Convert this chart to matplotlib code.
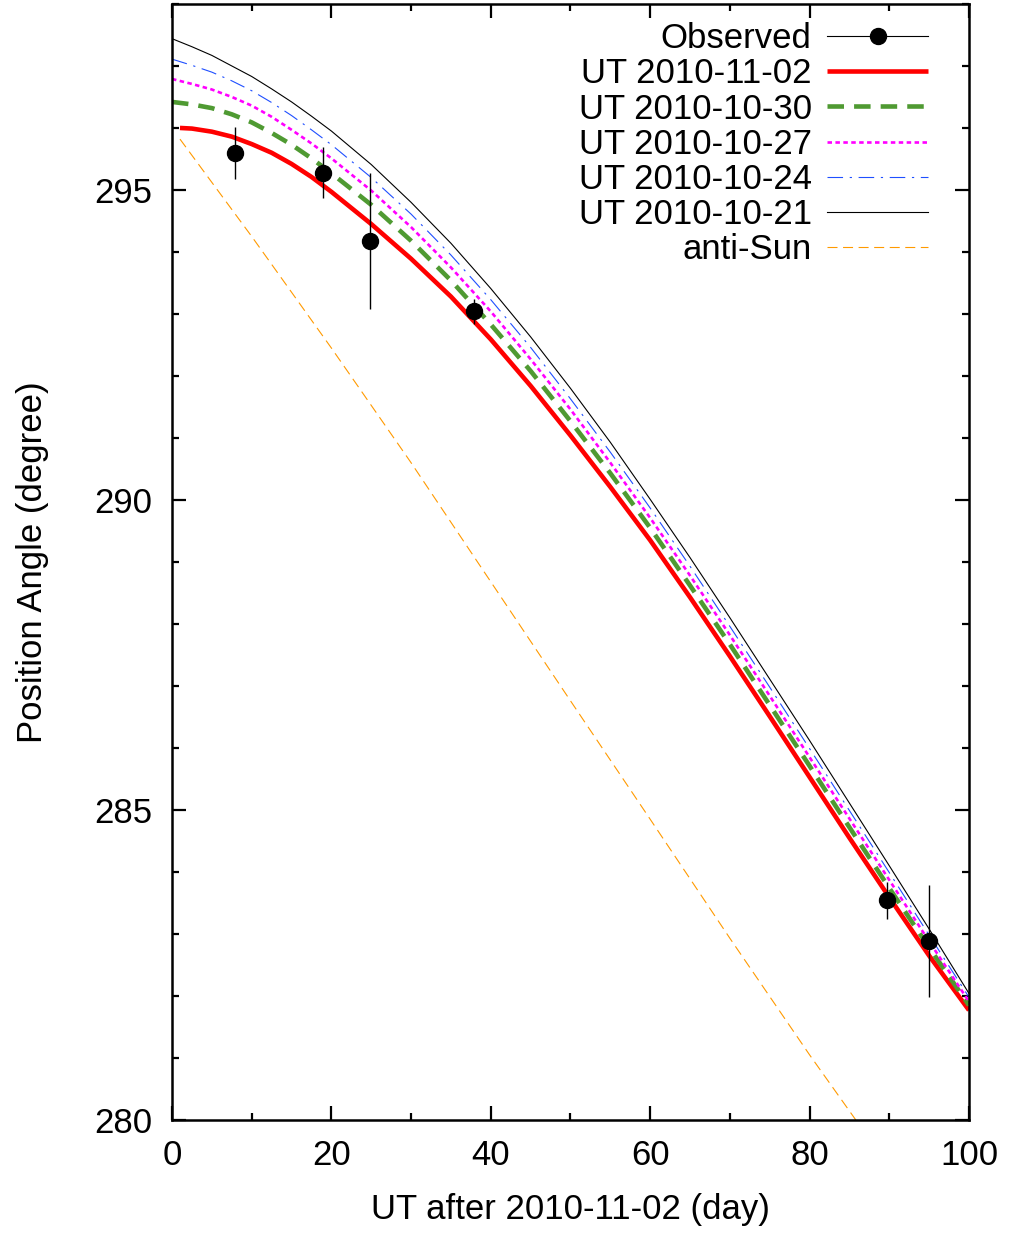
import matplotlib
matplotlib.use("Agg")
import matplotlib.pyplot as plt
from matplotlib.lines import Line2D
from matplotlib.ticker import MultipleLocator

plt.rcParams["font.family"] = ["Liberation Sans", "DejaVu Sans"]

# observed position angles
obs_day = [7.9, 18.9, 24.9, 37.9, 89.7, 95.0]
obs_pa = [295.60, 295.28, 294.18, 293.04, 283.54, 282.89]
obs_err = [0.42, 0.41, 1.10, 0.20, 0.30, 0.90]

# model curves
day = [0, 2.5, 5, 7.5, 10, 12.5, 15, 17.5, 20, 25, 30, 35, 40, 45, 50,
       55, 60, 65, 70, 75, 80, 85, 90, 95, 100]
day_red = [1] + day[1:]
pa_1102 = [296.00, 295.99, 295.94, 295.86, 295.74, 295.60, 295.42, 295.21,
           294.97, 294.45, 293.89, 293.28, 292.59, 291.84, 291.04, 290.21,
           289.35, 288.43, 287.48, 286.51, 285.53, 284.55, 283.59, 282.65,
           281.77]
pa_1030 = [296.42, 296.38, 296.32, 296.22, 296.09, 295.92, 295.73, 295.51,
           295.27, 294.76, 294.18, 293.54, 292.83, 292.08, 291.27, 290.43,
           289.55, 288.62, 287.67, 286.69, 285.71, 284.72, 283.74, 282.78,
           281.85]
pa_1027 = [296.79, 296.71, 296.62, 296.50, 296.36, 296.18, 295.97, 295.75,
           295.51, 294.99, 294.40, 293.75, 293.04, 292.27, 291.46, 290.60,
           289.71, 288.78, 287.82, 286.84, 285.85, 284.86, 283.87, 282.88,
           281.91]
pa_1024 = [297.11, 297.01, 296.90, 296.76, 296.60, 296.41, 296.20, 295.97,
           295.73, 295.20, 294.61, 293.95, 293.23, 292.46, 291.63, 290.77,
           289.87, 288.93, 287.96, 286.98, 285.99, 284.99, 283.99, 282.98,
           281.98]
pa_1021 = [297.44, 297.31, 297.17, 297.00, 296.83, 296.63, 296.42, 296.19,
           295.95, 295.41, 294.80, 294.14, 293.41, 292.63, 291.80, 290.93,
           290.01, 289.07, 288.10, 287.11, 286.12, 285.11, 284.10, 283.08,
           282.04]

sun_day = [1, 10, 20, 30, 40, 50, 60, 70, 80, 85.8]
sun_pa = [295.82, 294.25, 292.45, 290.60, 288.68, 286.76, 284.85, 282.93,
          281.05, 280.00]

fig = plt.figure(figsize=(10.10, 12.34), dpi=100)
ax = fig.add_axes([0.1703, 0.0924, 0.7891, 0.9044])

red, = ax.plot(day_red, pa_1102, color="#ff0000", lw=3.3, solid_capstyle="butt")
green, = ax.plot(day, pa_1030, color="#4f9a32", lw=3.3, dashes=(3.6, 2.2))
mag, = ax.plot(day, pa_1027, color="#ff00ff", lw=1.9, dashes=(1.7, 1.3))
blue, = ax.plot(day, pa_1024, color="#1f4fff", lw=0.8, dashes=(14, 6, 2, 6))
black, = ax.plot(day, pa_1021, color="black", lw=0.8)
sun, = ax.plot(sun_day, sun_pa, color="#ff9a00", lw=0.8, dashes=(9, 5))

ax.errorbar(obs_day, obs_pa, yerr=obs_err, fmt="o", color="black", ms=11.5,
            elinewidth=1.0, capsize=0, zorder=5)
obs_h = Line2D([], [], color="black", lw=0.8, marker="o", ms=11.5)

ax.set_xlim(0, 100)
ax.set_ylim(280, 298)
ax.xaxis.set_major_locator(MultipleLocator(20))
ax.xaxis.set_minor_locator(MultipleLocator(10))
ax.yaxis.set_major_locator(MultipleLocator(5))
ax.yaxis.set_minor_locator(MultipleLocator(1))
ax.tick_params(which="both", direction="in", top=True, right=True,
               labelsize=25, width=1.6)
ax.tick_params(which="major", length=10, pad=14)
ax.tick_params(which="minor", length=5)
for s in ax.spines.values():
    s.set_linewidth(1.8)

ax.set_xlabel("UT after 2010-11-02 (day)", fontsize=25, labelpad=15)
ax.set_ylabel("Position Angle (degree)", fontsize=25, labelpad=33)

ax.legend([obs_h, red, green, mag, blue, black, sun],
          ["Observed", "UT 2010-11-02", "UT 2010-10-30", "UT 2010-10-27",
           "UT 2010-10-24", "UT 2010-10-21", "anti-Sun"],
          loc="upper right", bbox_to_anchor=(0.9486, 0.9836), frameon=False,
          fontsize=25, markerfirst=False, numpoints=1, handlelength=2.9,
          handletextpad=0.45, labelspacing=0.063, borderpad=0, borderaxespad=0)

fig.savefig("out.png", dpi=100)
